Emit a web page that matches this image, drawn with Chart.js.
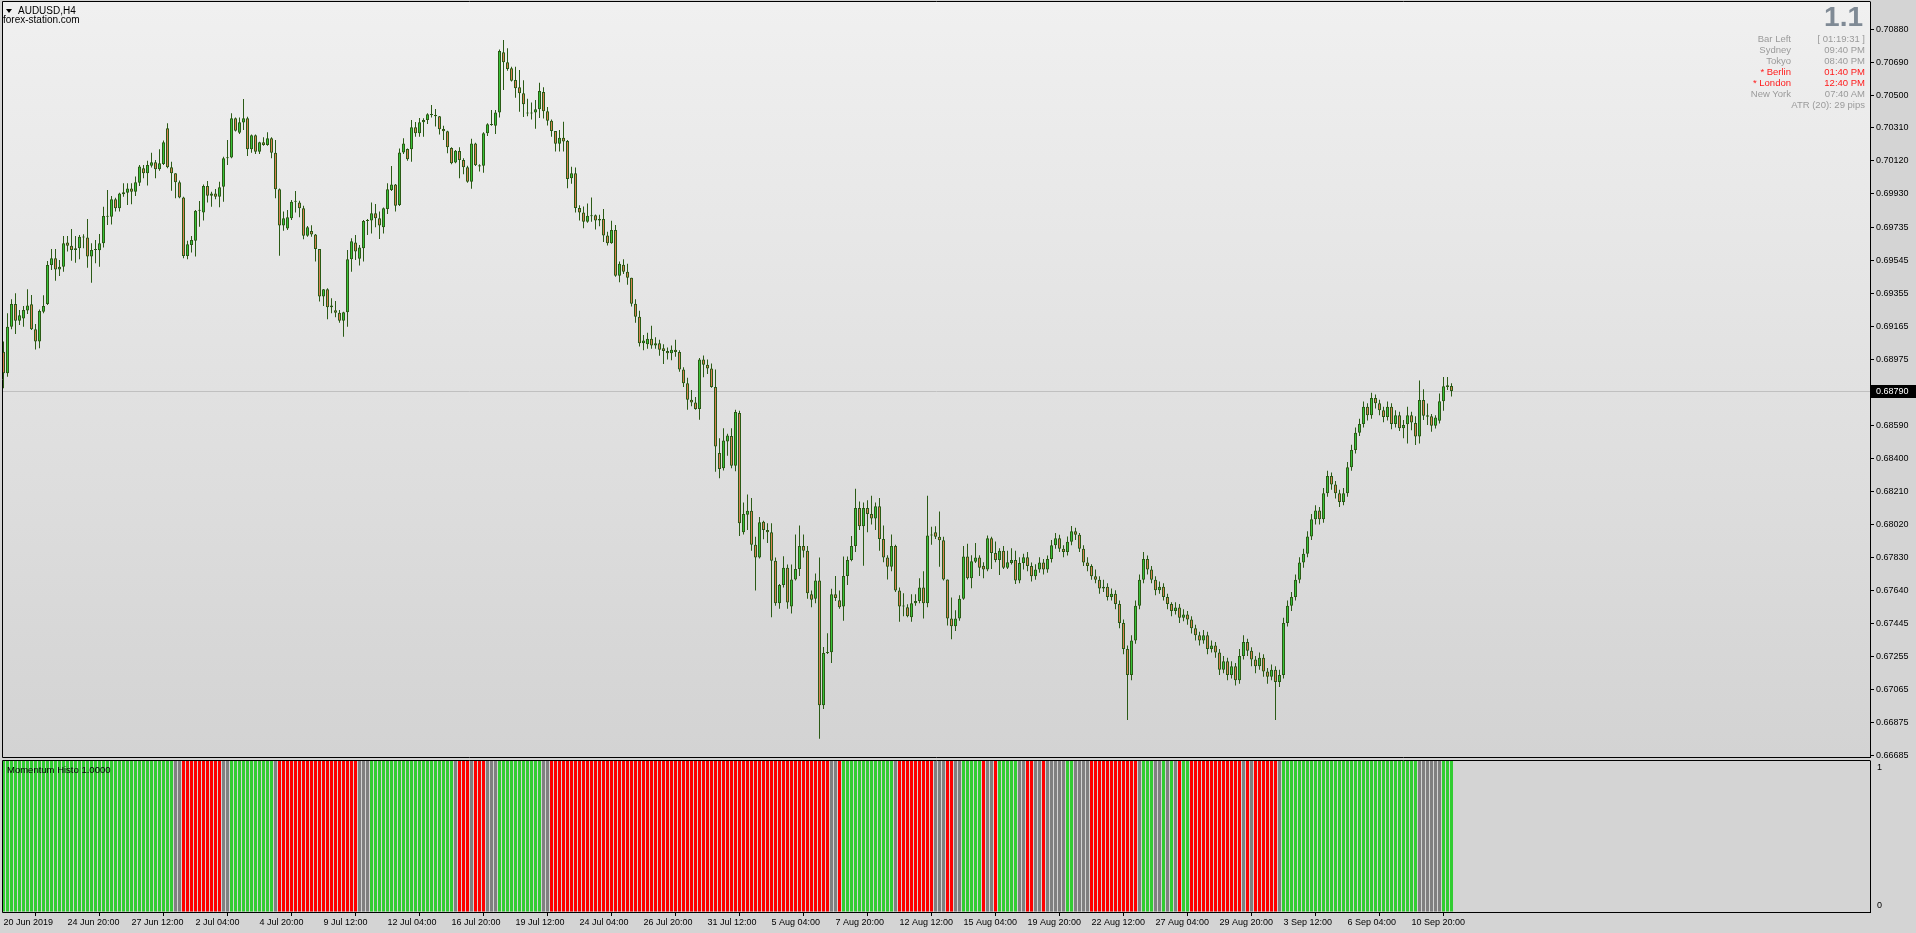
<!DOCTYPE html>
<html>
<head>
<meta charset="utf-8">
<title>AUDUSD,H4</title>
<script src="https://cdn.jsdelivr.net/npm/chart.js@4.4.1/dist/chart.umd.min.js"></script>
<style>
  html, body { margin: 0; padding: 0; width: 1916px; height: 933px; overflow: hidden; background: #d4d4d4; }
  body { font-family: 'Liberation Sans', Arial, sans-serif; position: relative; }
  canvas { position: absolute; left: 0; }
  #priceCanvas { top: 0; }
  #momentumCanvas { top: 758px; }
  .txt { position: absolute; white-space: nowrap; line-height: 11px; font-size: 9.5px; color: #000; }
  .tri { position: absolute; width: 0; height: 0; border-left: 3px solid transparent; border-right: 3px solid transparent; border-top: 4px solid #000; }
  .r { text-align: right; }
  .grey { color: #9a9a9a; }
  .red { color: #ff1a1a; }
</style>
</head>
<body>
<canvas id="priceCanvas" width="1916" height="758"></canvas>
<canvas id="momentumCanvas" width="1916" height="175"></canvas>

<div class="tri" style="left:6px;top:9px"></div>
<div class="txt" style="left:18px;top:5px;font-size:10px">AUDUSD,H4</div>
<div class="txt" style="left:3px;top:14px;font-size:10px">forex-station.com</div>

<div class="txt" style="right:53px;top:3px;font-size:28px;line-height:28px;font-weight:bold;color:#7f8a95">1.1</div>
<div class="txt grey r" style="right:125px;top:33px">Bar Left</div>
<div class="txt grey r" style="right:51px;top:33px">[ 01:19:31 ]</div>
<div class="txt grey r" style="right:125px;top:44px">Sydney</div>
<div class="txt grey r" style="right:51px;top:44px">09:40 PM</div>
<div class="txt grey r" style="right:125px;top:55px">Tokyo</div>
<div class="txt grey r" style="right:51px;top:55px">08:40 PM</div>
<div class="txt red r" style="right:125px;top:66px">* Berlin</div>
<div class="txt red r" style="right:51px;top:66px">01:40 PM</div>
<div class="txt red r" style="right:125px;top:77px">* London</div>
<div class="txt red r" style="right:51px;top:77px">12:40 PM</div>
<div class="txt grey r" style="right:125px;top:88px">New York</div>
<div class="txt grey r" style="right:51px;top:88px">07:40 AM</div>
<div class="txt grey r" style="right:51px;top:99px">ATR (20): 29 pips</div>

<div class="txt" style="left:7px;top:764px">Momentum Histo 1.0000</div>
<div class="txt" style="left:1877px;top:762px;font-size:9px">1</div>
<div class="txt" style="left:1877px;top:900px;font-size:9px">0</div>

<script>
// AUDUSD H4 candles, 20 Jun - 11 Sep 2019
const opens = [
  0.69018,0.68893,0.69162,0.69293,0.69197,0.69210,0.69255,0.69291,0.69147,0.69076,
  0.69249,0.69293,0.69518,0.69557,0.69493,0.69509,0.69649,0.69630,0.69605,0.69615,
  0.69682,0.69678,0.69567,0.69605,0.69603,0.69644,0.69801,0.69797,0.69898,0.69846,
  0.69927,0.69936,0.69961,0.69942,0.69994,0.70077,0.70048,0.70092,0.70112,0.70071,
  0.70102,0.70308,0.70083,0.70048,0.69996,0.69909,0.69570,0.69634,0.69659,0.69832,
  0.69821,0.69975,0.69919,0.69932,0.69913,0.69971,0.70135,0.70140,0.70366,0.70283,
  0.70341,0.70366,0.70187,0.70268,0.70173,0.70227,0.70212,0.70250,0.70167,0.69956,
  0.69746,0.69730,0.69788,0.69884,0.69880,0.69846,0.69688,0.69715,0.69694,0.69611,
  0.69336,0.69378,0.69285,0.69257,0.69243,0.69197,0.69245,0.69551,0.69649,0.69555,
  0.69615,0.69773,0.69775,0.69817,0.69788,0.69736,0.69842,0.69952,0.69984,0.69865,
  0.70169,0.70189,0.70187,0.70314,0.70279,0.70343,0.70356,0.70389,0.70385,0.70377,
  0.70304,0.70291,0.70194,0.70110,0.70177,0.70125,0.70083,0.70000,0.70221,0.70094,
  0.70092,0.70279,0.70331,0.70323,0.70400,0.70747,0.70689,0.70655,0.70587,0.70545,
  0.70510,0.70400,0.70394,0.70399,0.70418,0.70518,0.70407,0.70351,0.70293,0.70219,
  0.70253,0.70235,0.70020,0.70049,0.69848,0.69821,0.69768,0.69800,0.69806,0.69776,
  0.69784,0.69689,0.69644,0.69721,0.69456,0.69520,0.69480,0.69445,0.69294,0.69220,
  0.69066,0.69061,0.69093,0.69053,0.69066,0.69037,0.69021,0.69008,0.69029,0.69016,
  0.68915,0.68836,0.68740,0.68724,0.68687,0.68973,0.68942,0.68920,0.68814,0.68433,
  0.68345,0.68499,0.68531,0.68359,0.68664,0.67974,0.68075,0.68099,0.67903,0.67829,
  0.68035,0.67988,0.67975,0.67810,0.67564,0.67670,0.67770,0.67545,0.67701,0.67762,
  0.67895,0.67868,0.67617,0.67590,0.67696,0.66975,0.67277,0.67282,0.67617,0.67582,
  0.67545,0.67722,0.67815,0.67895,0.68115,0.68009,0.68115,0.68080,0.68054,0.68125,
  0.67935,0.67829,0.67776,0.67895,0.67638,0.67545,0.67542,0.67484,0.67564,0.67577,
  0.67656,0.67564,0.67956,0.67974,0.67948,0.67929,0.67701,0.67476,0.67431,0.67476,
  0.67590,0.67834,0.67709,0.67804,0.67829,0.67781,0.67760,0.67940,0.67855,0.67815,
  0.67868,0.67770,0.67797,0.67815,0.67696,0.67797,0.67830,0.67780,0.67720,0.67760,
  0.67800,0.67760,0.67820,0.67900,0.67940,0.67880,0.67860,0.67920,0.67980,0.67960,
  0.67880,0.67800,0.67780,0.67720,0.67700,0.67650,0.67660,0.67600,0.67620,0.67560,
  0.67450,0.67300,0.67150,0.67350,0.67550,0.67700,0.67820,0.67760,0.67700,0.67640,
  0.67660,0.67600,0.67560,0.67520,0.67540,0.67480,0.67500,0.67470,0.67420,0.67380,
  0.67350,0.67380,0.67300,0.67320,0.67280,0.67180,0.67230,0.67150,0.67200,0.67120,
  0.67260,0.67340,0.67290,0.67240,0.67200,0.67250,0.67170,0.67140,0.67180,0.67110,
  0.67150,0.67450,0.67550,0.67600,0.67700,0.67800,0.67850,0.67950,0.68050,0.68100,
  0.68050,0.68200,0.68300,0.68250,0.68200,0.68150,0.68200,0.68350,0.68450,0.68550,
  0.68600,0.68700,0.68650,0.68750,0.68720,0.68680,0.68640,0.68700,0.68600,0.68650,
  0.68575,0.68599,0.68651,0.68605,0.68528,0.68739,0.68651,0.68645,0.68590,0.68618,
  0.68732,0.68814,0.68820
];
const highs = [
  0.69076,0.69239,0.69320,0.69355,0.69258,0.69282,0.69378,0.69345,0.69178,0.69262,
  0.69343,0.69542,0.69611,0.69611,0.69547,0.69686,0.69686,0.69726,0.69686,0.69692,
  0.69696,0.69784,0.69644,0.69663,0.69698,0.69855,0.69952,0.69917,0.69907,0.69936,
  0.69990,0.69990,0.69990,0.70029,0.70096,0.70096,0.70121,0.70167,0.70125,0.70187,
  0.70237,0.70337,0.70115,0.70048,0.70006,0.69913,0.69659,0.69686,0.69836,0.69888,
  0.69984,0.70004,0.69942,0.69957,0.70000,0.70144,0.70241,0.70395,0.70371,0.70370,
  0.70477,0.70375,0.70273,0.70273,0.70231,0.70256,0.70285,0.70256,0.70241,0.69961,
  0.69827,0.69836,0.69894,0.69946,0.69890,0.69861,0.69744,0.69748,0.69698,0.69611,
  0.69380,0.69384,0.69326,0.69311,0.69258,0.69249,0.69605,0.69673,0.69692,0.69634,
  0.69778,0.69784,0.69879,0.69871,0.69827,0.69850,0.69990,0.70090,0.69986,0.70192,
  0.70250,0.70192,0.70356,0.70345,0.70368,0.70366,0.70395,0.70443,0.70420,0.70379,
  0.70323,0.70294,0.70198,0.70183,0.70198,0.70135,0.70092,0.70248,0.70225,0.70100,
  0.70285,0.70337,0.70414,0.70414,0.70764,0.70818,0.70770,0.70664,0.70664,0.70645,
  0.70585,0.70479,0.70457,0.70471,0.70571,0.70545,0.70431,0.70359,0.70293,0.70298,
  0.70346,0.70240,0.70086,0.70081,0.69864,0.69856,0.69874,0.69909,0.69810,0.69808,
  0.69842,0.69710,0.69774,0.69750,0.69538,0.69551,0.69525,0.69445,0.69320,0.69254,
  0.69114,0.69127,0.69167,0.69101,0.69087,0.69061,0.69042,0.69053,0.69087,0.69026,
  0.68928,0.68867,0.68796,0.68756,0.68981,0.68995,0.68973,0.68949,0.68915,0.68518,
  0.68576,0.68544,0.68576,0.68682,0.68676,0.68147,0.68192,0.68173,0.67948,0.68062,
  0.68041,0.68027,0.68027,0.67829,0.67675,0.67836,0.67789,0.67789,0.67961,0.68014,
  0.67961,0.67895,0.67638,0.67736,0.67829,0.67312,0.67391,0.67648,0.67722,0.67638,
  0.67834,0.67834,0.67953,0.68226,0.68152,0.68147,0.68160,0.68186,0.68147,0.68173,
  0.68014,0.67842,0.67961,0.67903,0.67656,0.67622,0.67558,0.67617,0.67617,0.67709,
  0.67749,0.68186,0.68006,0.68009,0.68094,0.67948,0.67701,0.67598,0.67524,0.67611,
  0.67895,0.67908,0.67842,0.67913,0.67842,0.67802,0.67956,0.67948,0.67921,0.67882,
  0.67895,0.67868,0.67882,0.67868,0.67830,0.67850,0.67860,0.67800,0.67790,0.67830,
  0.67820,0.67840,0.67930,0.67970,0.67960,0.67900,0.67950,0.68010,0.68000,0.67970,
  0.67900,0.67830,0.67790,0.67760,0.67720,0.67700,0.67680,0.67650,0.67640,0.67580,
  0.67470,0.67320,0.67380,0.67580,0.67730,0.67860,0.67840,0.67780,0.67720,0.67690,
  0.67680,0.67620,0.67570,0.67570,0.67560,0.67530,0.67520,0.67490,0.67440,0.67400,
  0.67410,0.67400,0.67350,0.67340,0.67300,0.67260,0.67250,0.67230,0.67220,0.67300,
  0.67380,0.67360,0.67310,0.67260,0.67280,0.67270,0.67190,0.67210,0.67200,0.67180,
  0.67480,0.67580,0.67630,0.67730,0.67830,0.67880,0.67980,0.68080,0.68130,0.68120,
  0.68230,0.68330,0.68320,0.68270,0.68220,0.68230,0.68380,0.68480,0.68580,0.68630,
  0.68730,0.68720,0.68780,0.68770,0.68740,0.68700,0.68730,0.68720,0.68680,0.68670,
  0.68623,0.68700,0.68670,0.68644,0.68851,0.68801,0.68718,0.68657,0.68651,0.68776,
  0.68872,0.68872,0.68835
];
const lows = [
  0.68806,0.68873,0.69147,0.69120,0.69172,0.69162,0.69235,0.69143,0.69031,0.69037,
  0.69239,0.69287,0.69490,0.69428,0.69455,0.69480,0.69596,0.69543,0.69532,0.69551,
  0.69615,0.69503,0.69416,0.69528,0.69509,0.69620,0.69750,0.69753,0.69827,0.69827,
  0.69913,0.69865,0.69869,0.69917,0.69975,0.70019,0.69977,0.70081,0.70019,0.70063,
  0.70096,0.70077,0.69948,0.69904,0.69904,0.69557,0.69551,0.69590,0.69567,0.69740,
  0.69775,0.69879,0.69855,0.69898,0.69852,0.69884,0.70096,0.70135,0.70289,0.70275,
  0.70298,0.70148,0.70167,0.70160,0.70160,0.70208,0.70208,0.70135,0.69904,0.69572,
  0.69717,0.69721,0.69778,0.69821,0.69794,0.69667,0.69682,0.69682,0.69538,0.69307,
  0.69282,0.69205,0.69239,0.69216,0.69185,0.69104,0.69162,0.69480,0.69547,0.69515,
  0.69538,0.69692,0.69701,0.69736,0.69669,0.69701,0.69813,0.69946,0.69827,0.69859,
  0.70160,0.70121,0.70115,0.70260,0.70260,0.70260,0.70333,0.70371,0.70318,0.70273,
  0.70241,0.70164,0.70100,0.70106,0.70019,0.70042,0.69994,0.69959,0.70090,0.70058,
  0.70052,0.70264,0.70323,0.70275,0.70370,0.70529,0.70641,0.70578,0.70485,0.70404,
  0.70373,0.70378,0.70359,0.70306,0.70367,0.70365,0.70325,0.70259,0.70174,0.70174,
  0.70174,0.69962,0.69988,0.69821,0.69776,0.69731,0.69763,0.69768,0.69723,0.69742,
  0.69652,0.69631,0.69641,0.69450,0.69419,0.69466,0.69405,0.69278,0.69185,0.69048,
  0.69026,0.69034,0.69034,0.69034,0.68994,0.68947,0.68973,0.68968,0.68989,0.68902,
  0.68814,0.68682,0.68703,0.68682,0.68624,0.68870,0.68889,0.68809,0.68324,0.68287,
  0.68332,0.68417,0.68345,0.68327,0.67953,0.67961,0.67988,0.67868,0.67638,0.67823,
  0.67934,0.67913,0.67484,0.67550,0.67532,0.67656,0.67532,0.67505,0.67696,0.67722,
  0.67829,0.67590,0.67542,0.67564,0.66782,0.66954,0.67272,0.67219,0.67577,0.67532,
  0.67463,0.67670,0.67807,0.67860,0.67988,0.67781,0.67974,0.68019,0.67988,0.67868,
  0.67802,0.67701,0.67749,0.67630,0.67458,0.67489,0.67484,0.67458,0.67550,0.67564,
  0.67476,0.67542,0.67903,0.67935,0.67776,0.67696,0.67436,0.67357,0.67404,0.67463,
  0.67585,0.67701,0.67651,0.67797,0.67722,0.67709,0.67750,0.67762,0.67802,0.67728,
  0.67762,0.67762,0.67789,0.67675,0.67680,0.67760,0.67750,0.67690,0.67700,0.67740,
  0.67730,0.67740,0.67800,0.67880,0.67860,0.67830,0.67840,0.67900,0.67930,0.67860,
  0.67780,0.67750,0.67700,0.67680,0.67620,0.67630,0.67580,0.67580,0.67530,0.67420,
  0.67270,0.66890,0.67120,0.67330,0.67530,0.67680,0.67730,0.67680,0.67610,0.67620,
  0.67580,0.67530,0.67490,0.67500,0.67450,0.67460,0.67440,0.67390,0.67350,0.67320,
  0.67330,0.67270,0.67280,0.67250,0.67150,0.67160,0.67120,0.67130,0.67090,0.67100,
  0.67240,0.67260,0.67200,0.67160,0.67180,0.67140,0.67100,0.67120,0.66890,0.67080,
  0.67130,0.67430,0.67520,0.67580,0.67680,0.67770,0.67830,0.67930,0.68020,0.68020,
  0.68030,0.68180,0.68220,0.68170,0.68120,0.68130,0.68180,0.68330,0.68430,0.68530,
  0.68580,0.68620,0.68630,0.68690,0.68650,0.68610,0.68620,0.68570,0.68580,0.68560,
  0.68517,0.68488,0.68564,0.68478,0.68488,0.68623,0.68594,0.68555,0.68574,0.68603,
  0.68676,0.68797,0.68759
];
const closes = [
  0.68893,0.69162,0.69293,0.69197,0.69228,0.69258,0.69285,0.69147,0.69076,0.69253,
  0.69282,0.69518,0.69557,0.69493,0.69509,0.69644,0.69630,0.69605,0.69615,0.69682,
  0.69678,0.69567,0.69605,0.69605,0.69644,0.69801,0.69797,0.69898,0.69846,0.69932,
  0.69938,0.69961,0.69942,0.69996,0.70087,0.70048,0.70096,0.70112,0.70071,0.70106,
  0.70227,0.70083,0.70048,0.69996,0.69909,0.69570,0.69638,0.69663,0.69832,0.69834,
  0.69975,0.69919,0.69932,0.69913,0.69967,0.70135,0.70140,0.70366,0.70294,0.70343,
  0.70366,0.70187,0.70268,0.70173,0.70227,0.70212,0.70250,0.70167,0.69956,0.69746,
  0.69788,0.69794,0.69884,0.69884,0.69846,0.69688,0.69736,0.69694,0.69611,0.69336,
  0.69378,0.69274,0.69274,0.69243,0.69197,0.69245,0.69551,0.69655,0.69596,0.69620,
  0.69773,0.69775,0.69817,0.69788,0.69746,0.69846,0.69956,0.69984,0.69861,0.70169,
  0.70221,0.70129,0.70314,0.70279,0.70343,0.70356,0.70389,0.70385,0.70377,0.70302,
  0.70291,0.70198,0.70106,0.70179,0.70125,0.70083,0.70000,0.70221,0.70094,0.70087,
  0.70279,0.70331,0.70327,0.70400,0.70755,0.70689,0.70651,0.70583,0.70539,0.70510,
  0.70447,0.70394,0.70399,0.70418,0.70524,0.70407,0.70351,0.70293,0.70219,0.70253,
  0.70232,0.70015,0.70049,0.69848,0.69821,0.69768,0.69803,0.69806,0.69776,0.69784,
  0.69689,0.69644,0.69721,0.69456,0.69525,0.69480,0.69445,0.69294,0.69220,0.69066,
  0.69082,0.69093,0.69053,0.69066,0.69029,0.69021,0.69008,0.69029,0.69016,0.68915,
  0.68836,0.68740,0.68724,0.68687,0.68973,0.68942,0.68920,0.68814,0.68470,0.68340,
  0.68504,0.68533,0.68359,0.68669,0.68027,0.68080,0.68099,0.67903,0.67829,0.68033,
  0.67988,0.67975,0.67810,0.67564,0.67670,0.67770,0.67569,0.67701,0.67762,0.67895,
  0.67868,0.67622,0.67585,0.67696,0.66975,0.67277,0.67282,0.67617,0.67595,0.67542,
  0.67722,0.67815,0.67895,0.68115,0.68009,0.68115,0.68080,0.68054,0.68125,0.67935,
  0.67829,0.67776,0.67895,0.67638,0.67545,0.67550,0.67489,0.67564,0.67577,0.67656,
  0.67564,0.67956,0.67961,0.67948,0.67929,0.67701,0.67476,0.67431,0.67476,0.67590,
  0.67834,0.67709,0.67807,0.67829,0.67770,0.67760,0.67940,0.67855,0.67815,0.67868,
  0.67770,0.67802,0.67815,0.67696,0.67797,0.67830,0.67780,0.67720,0.67760,0.67800,
  0.67760,0.67820,0.67900,0.67940,0.67880,0.67860,0.67920,0.67980,0.67960,0.67880,
  0.67800,0.67780,0.67720,0.67700,0.67650,0.67660,0.67600,0.67620,0.67560,0.67450,
  0.67300,0.67150,0.67350,0.67550,0.67700,0.67820,0.67760,0.67700,0.67640,0.67660,
  0.67600,0.67560,0.67520,0.67540,0.67480,0.67500,0.67470,0.67420,0.67380,0.67350,
  0.67380,0.67300,0.67320,0.67280,0.67180,0.67230,0.67150,0.67200,0.67120,0.67260,
  0.67340,0.67290,0.67240,0.67200,0.67250,0.67170,0.67140,0.67180,0.67110,0.67150,
  0.67450,0.67550,0.67600,0.67700,0.67800,0.67850,0.67950,0.68050,0.68100,0.68050,
  0.68200,0.68300,0.68250,0.68200,0.68150,0.68200,0.68350,0.68450,0.68550,0.68600,
  0.68700,0.68650,0.68750,0.68720,0.68680,0.68640,0.68700,0.68600,0.68650,0.68575,
  0.68594,0.68651,0.68609,0.68528,0.68739,0.68648,0.68642,0.68590,0.68638,0.68732,
  0.68818,0.68824,0.68790
];

// Momentum Histo: every bar is 1.0, the colour carries the state
const momentumRuns = [
  ['up',43],['flat',2],['down',10],['flat',2],['up',11],['flat',1],['down',20],['flat',3],
  ['up',21],['flat',1],['down',3],['flat',1],['down',3],['flat',3],['up',11],['flat',2],
  ['down',70],['flat',2],['down',1],['up',13],['flat',1],['down',9],['flat',3],['down',2],
  ['flat',2],['up',5],['down',1],['flat',2],['down',1],['up',5],['flat',2],['down',2],
  ['flat',2],['down',1],['flat',5],['up',2],['flat',4],['down',12],['flat',1],['up',3],
  ['flat',2],['up',1],['flat',1],['up',1],['flat',1],['down',1],['up',2],['down',13],
  ['flat',1],['down',1],['flat',1],['down',6],['flat',1],['up',34],['flat',6],['up',3]
];

const priceTicks = [
  0.70880,0.70690,0.70500,0.70310,0.70120,0.69930,0.69735,0.69545,0.69355,0.69165,0.68975,
  0.68590,0.68400,0.68210,0.68020,0.67830,0.67640,0.67445,0.67255,0.67065,0.66875,0.66685
];
const timeLabels = [
  '20 Jun 2019','24 Jun 20:00','27 Jun 12:00','2 Jul 04:00','4 Jul 20:00','9 Jul 12:00',
  '12 Jul 04:00','16 Jul 20:00','19 Jul 12:00','24 Jul 04:00','26 Jul 20:00','31 Jul 12:00',
  '5 Aug 04:00','7 Aug 20:00','12 Aug 12:00','15 Aug 04:00','19 Aug 20:00','22 Aug 12:00',
  '27 Aug 04:00','29 Aug 20:00','3 Sep 12:00','6 Sep 04:00','10 Sep 20:00'
];
const barsPerLabel = 16;
const lastPrice = 0.68790;

// visible window (bar index / price) of the MT4 chart
const xMin = -0.125, xMax = 466.625;
const yMin = 0.666763, yMax = 0.710377;

const WICK = '#2b5b16', BULL = '#38c238', BEAR = '#d98050';
const STATE_COLOR = { up: '#32cd32', down: '#ff0000', flat: '#808080' };

Chart.defaults.font.family = "'Liberation Sans', Arial, sans-serif";
Chart.defaults.font.size = 9;
Chart.defaults.color = '#000';

const idx = closes.map((_, i) => i);
const momentumColors = [];
momentumRuns.forEach(([state, n]) => { for (let k = 0; k < n; k++) momentumColors.push(STATE_COLOR[state]); });

// fixed axis boxes so the plot area lines up with the terminal window
function fixRightAxis(scale) {
    scale.width = 46;
    scale.paddingTop = 0;
    scale.paddingBottom = 0;
}

// panel background + black frame, MT4 style
const panelPaint = {
    id: 'panelPaint',
    beforeDraw(chart, args, opts) {
        const { ctx, chartArea: a, width, height } = chart;
        ctx.save();
        ctx.fillStyle = '#d4d4d4';
        ctx.fillRect(0, 0, width, height);
        if (opts.gradient) {
            const g = ctx.createLinearGradient(0, a.top, 0, a.bottom);
            g.addColorStop(0, '#f0f0f0');
            g.addColorStop(1, '#d3d3d3');
            ctx.fillStyle = g;
            ctx.fillRect(a.left, a.top, a.right - a.left, a.bottom - a.top);
        }
        ctx.restore();
    },
    afterDraw(chart) {
        const { ctx, chartArea: a } = chart;
        ctx.save();
        ctx.strokeStyle = '#000';
        ctx.lineWidth = 1;
        ctx.beginPath();
        ctx.moveTo(a.left - 0.5, a.bottom + 0.5);
        ctx.lineTo(a.left - 0.5, a.top - 0.5);
        ctx.lineTo(a.right + 0.5, a.top - 0.5);
        ctx.moveTo(a.left - 0.5, a.bottom + 0.5);
        ctx.lineTo(a.right + 0.5, a.bottom + 0.5);
        ctx.stroke();
        ctx.restore();
    }
};

// Bid line and its price box on the axis
const lastPriceMarker = {
    id: 'lastPriceMarker',
    beforeDatasetsDraw(chart) {
        const { ctx, chartArea: a, scales } = chart;
        const y = Math.round(scales.y.getPixelForValue(lastPrice)) + 0.5;
        ctx.save();
        ctx.strokeStyle = '#c0c0c0';
        ctx.beginPath();
        ctx.moveTo(a.left, y);
        ctx.lineTo(a.right, y);
        ctx.stroke();
        ctx.restore();
    },
    afterDraw(chart) {
        const { ctx, chartArea: a, scales, width } = chart;
        const y = Math.round(scales.y.getPixelForValue(lastPrice));
        ctx.save();
        ctx.fillStyle = '#000';
        ctx.fillRect(a.right + 1, y - 6, width - a.right - 1, 13);
        ctx.fillStyle = '#fff';
        ctx.font = "9px 'Liberation Sans', Arial, sans-serif";
        ctx.textBaseline = 'middle';
        ctx.fillText(lastPrice.toFixed(5), a.right + 6, y + 0.5);
        ctx.restore();
    }
};

const xScale = {
    type: 'linear', min: xMin, max: xMax, offset: false, stacked: true,
    grid: { offset: false, drawOnChartArea: false }
};

// 1. Price panel: candle bodies over wicks
new Chart(document.getElementById('priceCanvas').getContext('2d'), {
    type: 'bar',
    data: {
        datasets: [{
            label: 'body',
            data: idx.map(i => ({ x: i, y: [opens[i], closes[i]] })),
            backgroundColor: idx.map(i => closes[i] >= opens[i] ? BULL : BEAR),
            borderColor: WICK,
            borderWidth: 1,
            borderSkipped: false,
            barThickness: 3,
            minBarLength: 1,
            inflateAmount: 0,
            order: 0
        }, {
            label: 'wick',
            data: idx.map(i => ({ x: i, y: [lows[i], highs[i]] })),
            backgroundColor: WICK,
            borderWidth: 0,
            barThickness: 1,
            inflateAmount: 0,
            order: 1
        }]
    },
    options: {
        responsive: false,
        animation: false,
        events: [],
        layout: { padding: { left: 3, top: 2, right: 0, bottom: 1 } },
        plugins: { legend: { display: false }, tooltip: { enabled: false }, panelPaint: { gradient: true } },
        scales: {
            x: { ...xScale, display: false },
            y: {
                position: 'right', min: yMin, max: yMax, stacked: false,
                afterFit: fixRightAxis,
                afterBuildTicks(scale) { scale.ticks = priceTicks.map(v => ({ value: v })); },
                ticks: { callback: v => v.toFixed(5), padding: 2, font: { size: 9 } },
                grid: { drawOnChartArea: false, drawTicks: true, tickLength: 4, color: '#000' },
                border: { color: '#000' }
            }
        }
    },
    plugins: [panelPaint, lastPriceMarker]
});

// 2. Momentum Histo sub window
new Chart(document.getElementById('momentumCanvas').getContext('2d'), {
    type: 'bar',
    data: {
        datasets: [{
            label: 'Momentum Histo',
            data: idx.map(i => ({ x: i, y: 1 })),
            backgroundColor: momentumColors,
            borderWidth: 0,
            barThickness: 3,
            inflateAmount: 0
        }]
    },
    options: {
        responsive: false,
        animation: false,
        events: [],
        layout: { padding: { left: 3, top: 3, right: 0, bottom: 0 } },
        plugins: { legend: { display: false }, tooltip: { enabled: false }, panelPaint: { gradient: false } },
        scales: {
            x: {
                ...xScale,
                position: 'bottom',
                afterFit(scale) { scale.height = 21; scale.paddingLeft = 0; scale.paddingRight = 0; },
                afterBuildTicks(scale) { scale.ticks = timeLabels.map((t, k) => ({ value: k * barsPerLabel })); },
                ticks: {
                    align: 'start', autoSkip: false, maxRotation: 0, padding: 1,
                    callback: v => timeLabels[Math.round(v / barsPerLabel)]
                },
                grid: { drawOnChartArea: false, drawTicks: true, tickLength: 4, color: '#000' },
                border: { color: '#000' }
            },
            y: {
                position: 'right', min: 0, max: 1,
                afterFit: fixRightAxis,
                ticks: { display: false },
                grid: { drawOnChartArea: false, drawTicks: false },
                border: { color: '#000' }
            }
        }
    },
    plugins: [panelPaint]
});
</script>
</body>
</html>
